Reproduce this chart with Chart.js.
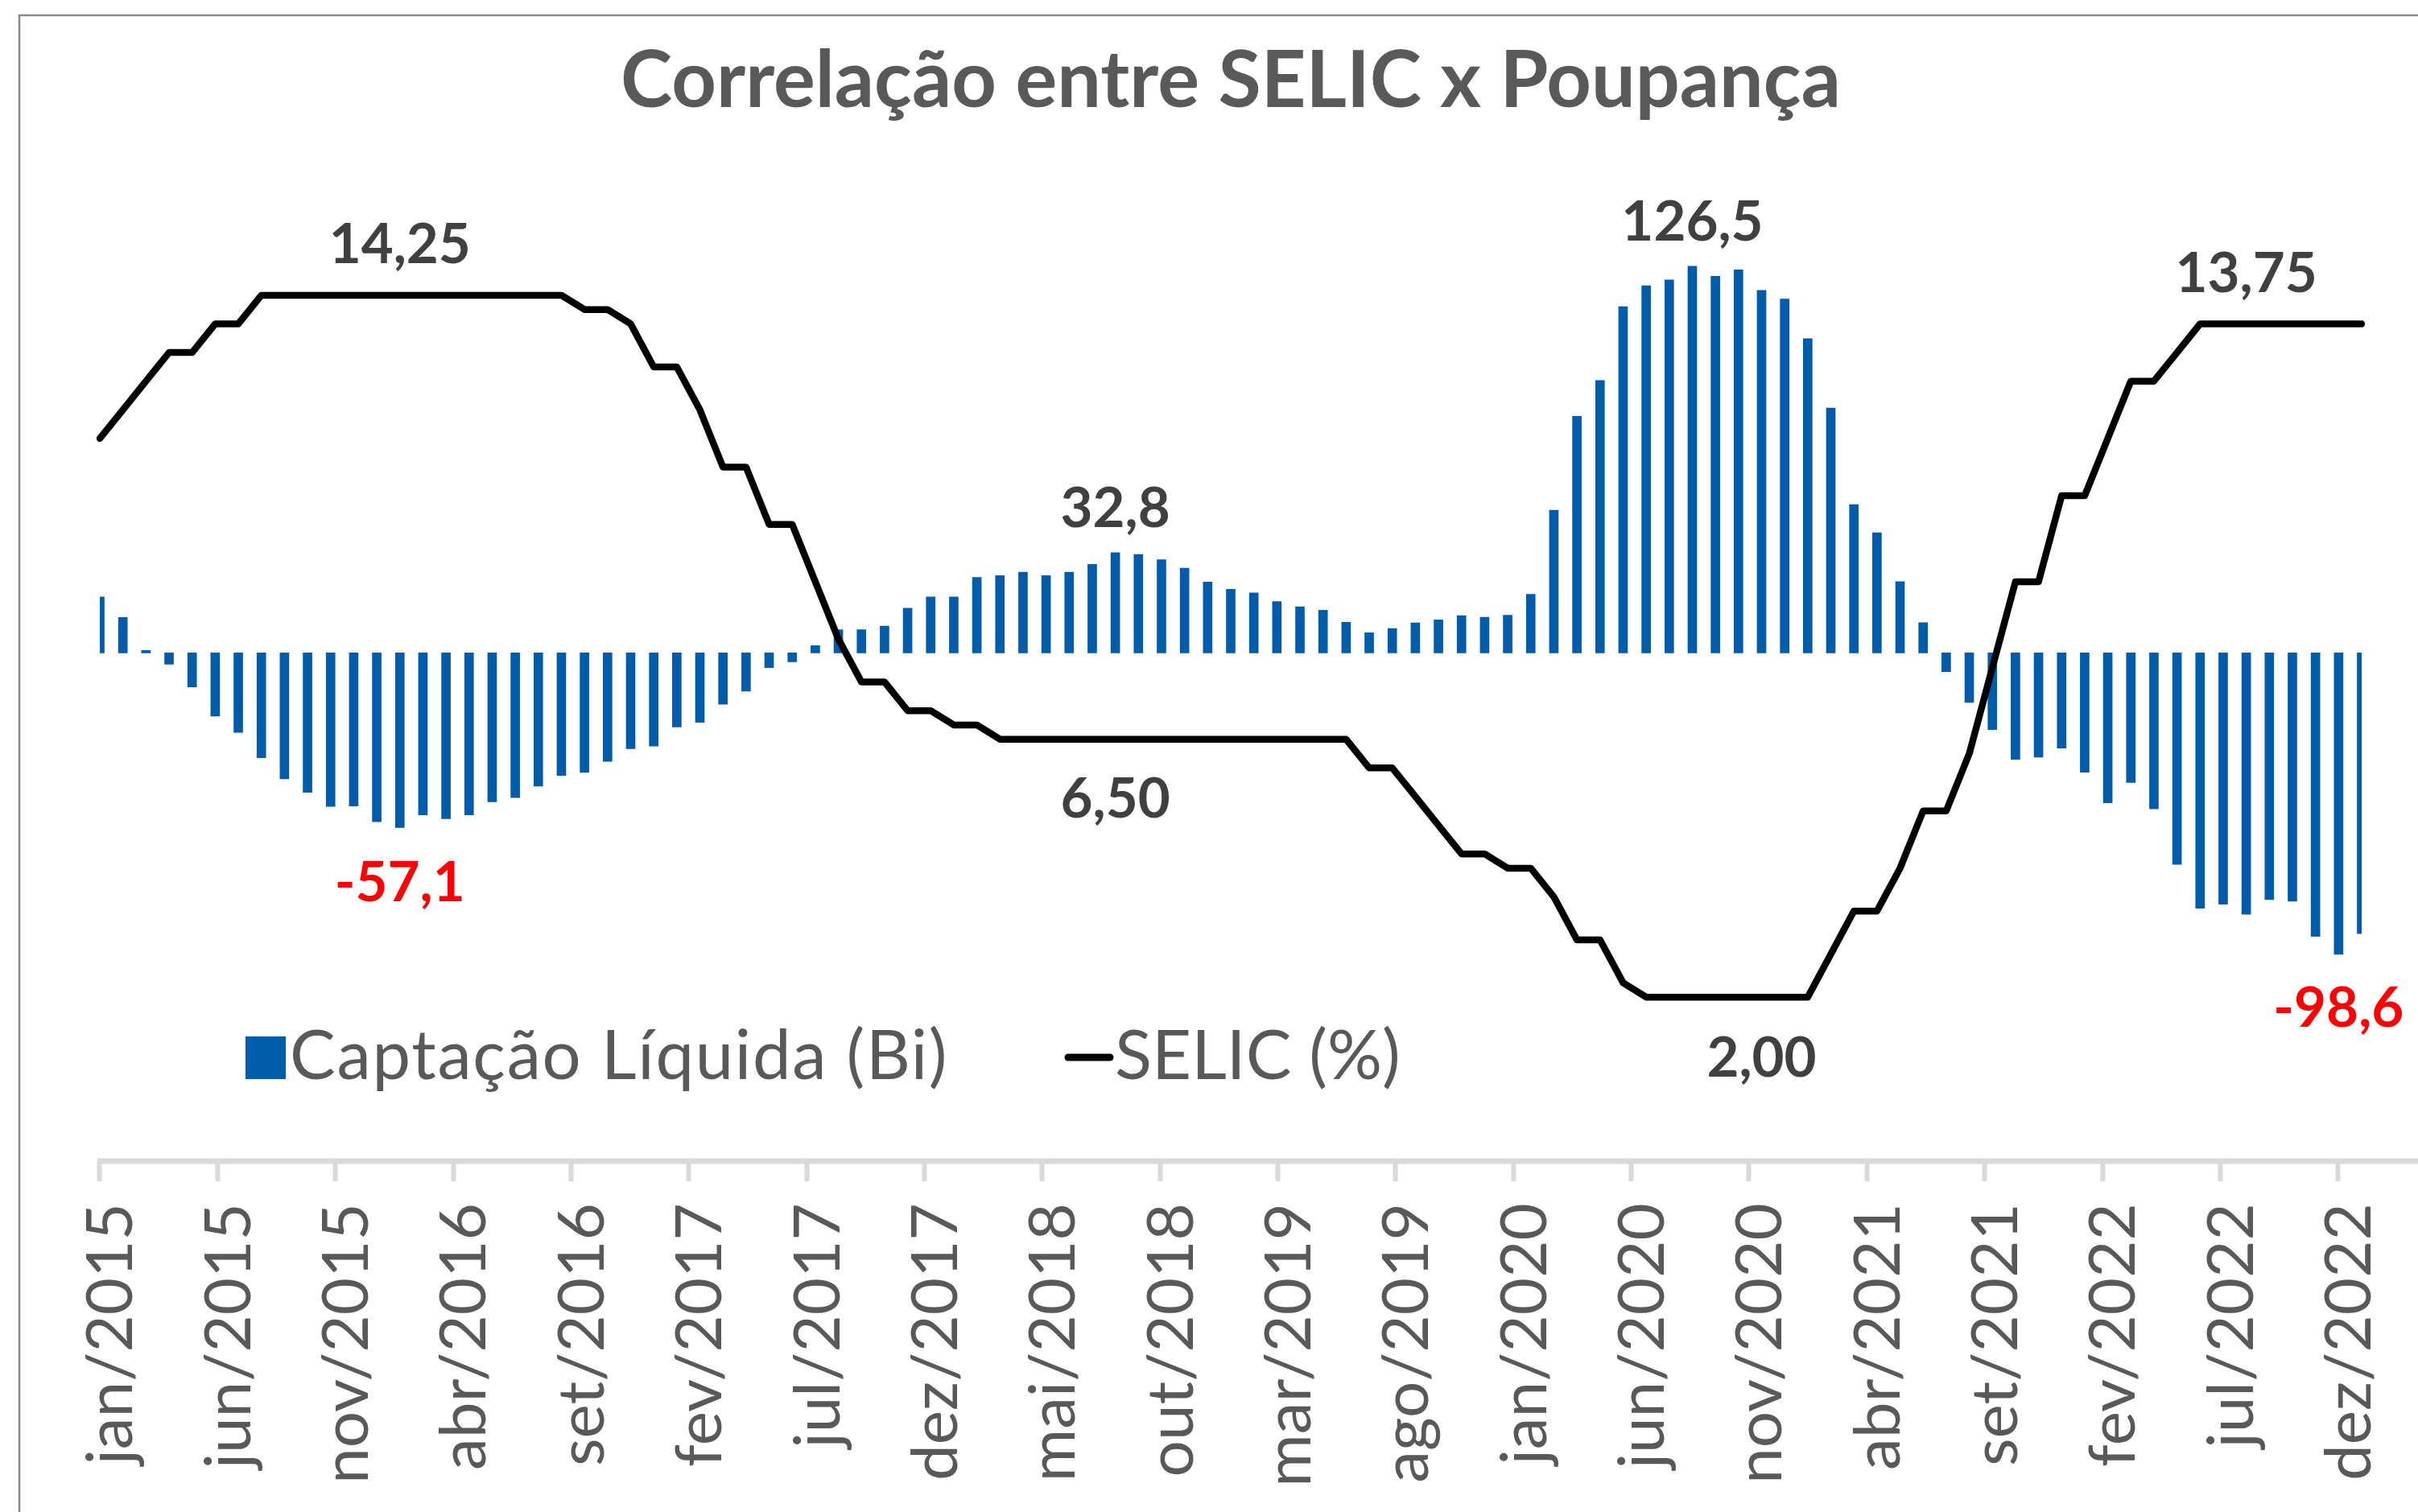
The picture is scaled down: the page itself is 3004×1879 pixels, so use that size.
<!DOCTYPE html>
<html lang="pt-BR">
<head>
<meta charset="utf-8">
<title>Correlação entre SELIC x Poupança</title>
<script src="https://cdn.jsdelivr.net/npm/chart.js@4.4.1/dist/chart.umd.min.js"></script>
<style>
  html, body { margin: 0; padding: 0; background: #fff; }
  canvas { display: block; }
</style>
</head>
<body>
<canvas id="chart" width="3004" height="1879"></canvas>
<script>
// monthly data, jan/2015 .. mar/2023
const months = [
  'jan/2015', 'fev/2015', 'mar/2015', 'abr/2015', 'mai/2015', 'jun/2015', 'jul/2015', 'ago/2015', 'set/2015', 'out/2015', 'nov/2015', 'dez/2015',
  'jan/2016', 'fev/2016', 'mar/2016', 'abr/2016', 'mai/2016', 'jun/2016', 'jul/2016', 'ago/2016', 'set/2016', 'out/2016', 'nov/2016', 'dez/2016',
  'jan/2017', 'fev/2017', 'mar/2017', 'abr/2017', 'mai/2017', 'jun/2017', 'jul/2017', 'ago/2017', 'set/2017', 'out/2017', 'nov/2017', 'dez/2017',
  'jan/2018', 'fev/2018', 'mar/2018', 'abr/2018', 'mai/2018', 'jun/2018', 'jul/2018', 'ago/2018', 'set/2018', 'out/2018', 'nov/2018', 'dez/2018',
  'jan/2019', 'fev/2019', 'mar/2019', 'abr/2019', 'mai/2019', 'jun/2019', 'jul/2019', 'ago/2019', 'set/2019', 'out/2019', 'nov/2019', 'dez/2019',
  'jan/2020', 'fev/2020', 'mar/2020', 'abr/2020', 'mai/2020', 'jun/2020', 'jul/2020', 'ago/2020', 'set/2020', 'out/2020', 'nov/2020', 'dez/2020',
  'jan/2021', 'fev/2021', 'mar/2021', 'abr/2021', 'mai/2021', 'jun/2021', 'jul/2021', 'ago/2021', 'set/2021', 'out/2021', 'nov/2021', 'dez/2021',
  'jan/2022', 'fev/2022', 'mar/2022', 'abr/2022', 'mai/2022', 'jun/2022', 'jul/2022', 'ago/2022', 'set/2022', 'out/2022', 'nov/2022', 'dez/2022',
  'jan/2023', 'fev/2023', 'mar/2023',
];

// Captação Líquida (Bi)
const captacao = [
  18.3, 11.6, 0.8, -3.7, -11.1, -20.7, -26.0, -34.3, -41.2, -45.6, -50.2, -50.1,
  -55.2, -57.1, -53.0, -54.2, -53.0, -48.7, -47.3, -43.6, -40.1, -39.1, -35.5, -31.3,
  -30.5, -24.2, -22.7, -16.8, -12.5, -4.8, -2.9, 2.4, 7.6, 7.6, 8.8, 14.6,
  18.3, 18.3, 24.7, 25.3, 26.4, 25.3, 26.4, 29.0, 32.8, 32.2, 30.5, 27.7,
  23.2, 20.8, 19.6, 16.8, 15.1, 14.0, 10.0, 6.6, 8.0, 9.8, 10.8, 12.2,
  11.7, 12.3, 19.2, 46.7, 77.4, 89.1, 113.3, 120.1, 122.0, 126.5, 123.2, 125.3,
  118.6, 115.8, 102.8, 80.1, 48.5, 39.3, 23.3, 9.9, -6.1, -16.2, -25.1, -34.8,
  -34.1, -31.1, -39.0, -49.0, -42.4, -51.0, -69.2, -83.5, -82.2, -85.5, -80.7, -81.2,
  -92.7, -98.6, -91.8,
];

// SELIC (%)
const selic = [
  11.75, 12.25, 12.75, 13.25, 13.25, 13.75, 13.75, 14.25, 14.25, 14.25, 14.25, 14.25,
  14.25, 14.25, 14.25, 14.25, 14.25, 14.25, 14.25, 14.25, 14.25, 14.00, 14.00, 13.75,
  13.00, 13.00, 12.25, 11.25, 11.25, 10.25, 10.25, 9.25, 8.25, 7.50, 7.50, 7.00,
  7.00, 6.75, 6.75, 6.50, 6.50, 6.50, 6.50, 6.50, 6.50, 6.50, 6.50, 6.50,
  6.50, 6.50, 6.50, 6.50, 6.50, 6.50, 6.50, 6.00, 6.00, 5.50, 5.00, 4.50,
  4.50, 4.25, 4.25, 3.75, 3.00, 3.00, 2.25, 2.00, 2.00, 2.00, 2.00, 2.00,
  2.00, 2.00, 2.00, 2.75, 3.50, 3.50, 4.25, 5.25, 5.25, 6.25, 7.75, 9.25,
  9.25, 10.75, 10.75, 11.75, 12.75, 12.75, 13.25, 13.75, 13.75, 13.75, 13.75, 13.75,
  13.75, 13.75, 13.75,
];

// the visible axis runs jan/2015 .. dez/2022, one label every 5 months
const axisMonths = months.slice(0, 96);
const tickLabels = [
  'jan/2015', 'jun/2015', 'nov/2015', 'abr/2016', 'set/2016', 'fev/2017', 'jul/2017',
  'dez/2017', 'mai/2018', 'out/2018', 'mar/2019', 'ago/2019', 'jan/2020', 'jun/2020',
  'nov/2020', 'abr/2021', 'set/2021', 'fev/2022', 'jul/2022', 'dez/2022',
];

const BLUE = '#005bab';
const DARK = '#404040';
const GREY = '#595959';
const RED = '#ff0000';

// highlighted values: which series / month, and where the text sits
const valueLabels = [
  { series: 'selic', index: 13, dy: -40, color: DARK },
  { series: 'selic', index: 44, dy: 97, color: DARK },
  { series: 'selic', index: 72, dy: 99, color: DARK },
  { series: 'selic', index: 93, dy: -39, color: DARK },
  { series: 'bar', index: 44, dy: -32, color: DARK },
  { series: 'bar', index: 69, dy: -32, color: DARK },
  { series: 'bar', index: 13, dy: 92, color: RED },
  { series: 'bar', index: 97, dy: 90, color: RED },
];

const fmt = (v, digits) => v.toFixed(digits).replace('.', ',');

const framePlugin = {
  id: 'frame',
  beforeDraw(chart) {
    const { ctx, width, height } = chart;
    ctx.save();
    ctx.fillStyle = '#fff';
    ctx.fillRect(0, 0, width, height);
    ctx.strokeStyle = '#8a8a8a';
    ctx.lineWidth = 2.5;
    ctx.beginPath();
    ctx.moveTo(24, height);
    ctx.lineTo(24, 19);
    ctx.lineTo(width, 19);
    ctx.stroke();
    ctx.restore();
  },
};

// the category axis line runs on past the last month up to the edge
const axisLinePlugin = {
  id: 'axisLine',
  beforeDatasetsDraw(chart) {
    const { ctx, chartArea, width } = chart;
    ctx.save();
    ctx.strokeStyle = '#d9d9d9';
    ctx.lineWidth = 7;
    ctx.beginPath();
    ctx.moveTo(chartArea.left - 3, chartArea.bottom);
    ctx.lineTo(width, chartArea.bottom);
    ctx.stroke();
    ctx.restore();
  },
};

const valueLabelPlugin = {
  id: 'valueLabels',
  afterDatasetsDraw(chart) {
    const { ctx, scales } = chart;
    ctx.save();
    ctx.font = 'bold 69px Lato';
    ctx.textAlign = 'center';
    ctx.textBaseline = 'alphabetic';
    valueLabels.forEach(({ series, index, dy, color }) => {
      const isSelic = series === 'selic';
      const v = isSelic ? selic[index] : captacao[index];
      const x = scales.x.getPixelForValue(index);
      const y = (isSelic ? scales.y1 : scales.y).getPixelForValue(v) + dy;
      ctx.fillStyle = color;
      ctx.fillText(fmt(v, isSelic ? 2 : 1), x, y);
    });
    ctx.restore();
  },
};

const legendPlugin = {
  id: 'insideLegend',
  afterDraw(chart) {
    const { ctx } = chart;
    const [bars, line] = chart.data.datasets;
    ctx.save();
    ctx.font = '85px Lato';
    ctx.textBaseline = 'alphabetic';
    ctx.textAlign = 'left';

    ctx.fillStyle = bars.backgroundColor;
    ctx.fillRect(305, 1288, 50, 53);
    ctx.fillStyle = GREY;
    ctx.letterSpacing = '1.7px';
    ctx.fillText(bars.label, 360, 1341);
    ctx.letterSpacing = '0px';

    ctx.strokeStyle = line.borderColor;
    ctx.lineWidth = 9;
    ctx.lineCap = 'round';
    ctx.beginPath();
    ctx.moveTo(1327, 1314);
    ctx.lineTo(1379, 1314);
    ctx.stroke();
    ctx.fillText(line.label, 1385, 1341);
    ctx.restore();
  },
};

function draw() {
  Chart.defaults.font.family = 'Lato';

  new Chart(document.getElementById('chart'), {
    type: 'bar',
    data: {
      labels: months,
      datasets: [
        {
          type: 'bar',
          label: 'Captação Líquida (Bi)',
          data: captacao,
          backgroundColor: BLUE,
          barThickness: 11,
          xAxisID: 'x',
          yAxisID: 'y',
          order: 2,
        },
        {
          type: 'line',
          label: 'SELIC (%)',
          data: selic,
          borderColor: '#000000',
          borderWidth: 8.5,
          borderJoinStyle: 'round',
          borderCapStyle: 'round',
          pointRadius: 0,
          tension: 0,
          xAxisID: 'x',
          yAxisID: 'y1',
          order: 1,
        },
      ],
    },
    options: {
      responsive: false,
      animation: false,
      devicePixelRatio: 1,
      events: [],
      layout: {
        padding: { left: 124, right: 70, top: 0, bottom: 0 },
      },
      plugins: {
        legend: { display: false },
        tooltip: { enabled: false },
        title: {
          display: true,
          text: 'Correlação entre SELIC x Poupança',
          color: GREY,
          font: { family: 'Lato', size: 97, weight: 'bold', lineHeight: 1.2 },
          padding: { top: 44, bottom: 40 },
        },
      },
      scales: {
        x: {
          type: 'category',
          display: false,
          offset: false,
        },
        xl: {
          type: 'category',
          labels: axisMonths,
          position: 'bottom',
          offset: true,
          border: { display: false },
          grid: {
            offset: true,
            drawOnChartArea: false,
            drawTicks: true,
            tickLength: 25,
            tickWidth: 6,
            tickColor: (c) => (c.index % 5 === 0 ? '#d9d9d9' : 'rgba(0,0,0,0)'),
          },
          ticks: {
            autoSkip: false,
            minRotation: 90,
            maxRotation: 90,
            padding: 27,
            color: GREY,
            font: { family: 'Lato', size: 80, lineHeight: 0.5 },
            callback: (value, index) => (index % 5 === 0 ? tickLabels[index / 5] : ''),
          },
          afterFit: (scale) => {
            scale.height = 436;
          },
        },
        y: {
          type: 'linear',
          display: false,
          min: -166.26,
          max: 160.84,
        },
        y1: {
          type: 'linear',
          display: false,
          position: 'right',
          min: -0.8626,
          max: 16.588,
        },
      },
    },
    plugins: [framePlugin, axisLinePlugin, valueLabelPlugin, legendPlugin],
  });
}

Promise.all([
  document.fonts.load('80px Lato'),
  document.fonts.load('bold 80px Lato'),
]).then(draw, draw);
</script>
</body>
</html>
